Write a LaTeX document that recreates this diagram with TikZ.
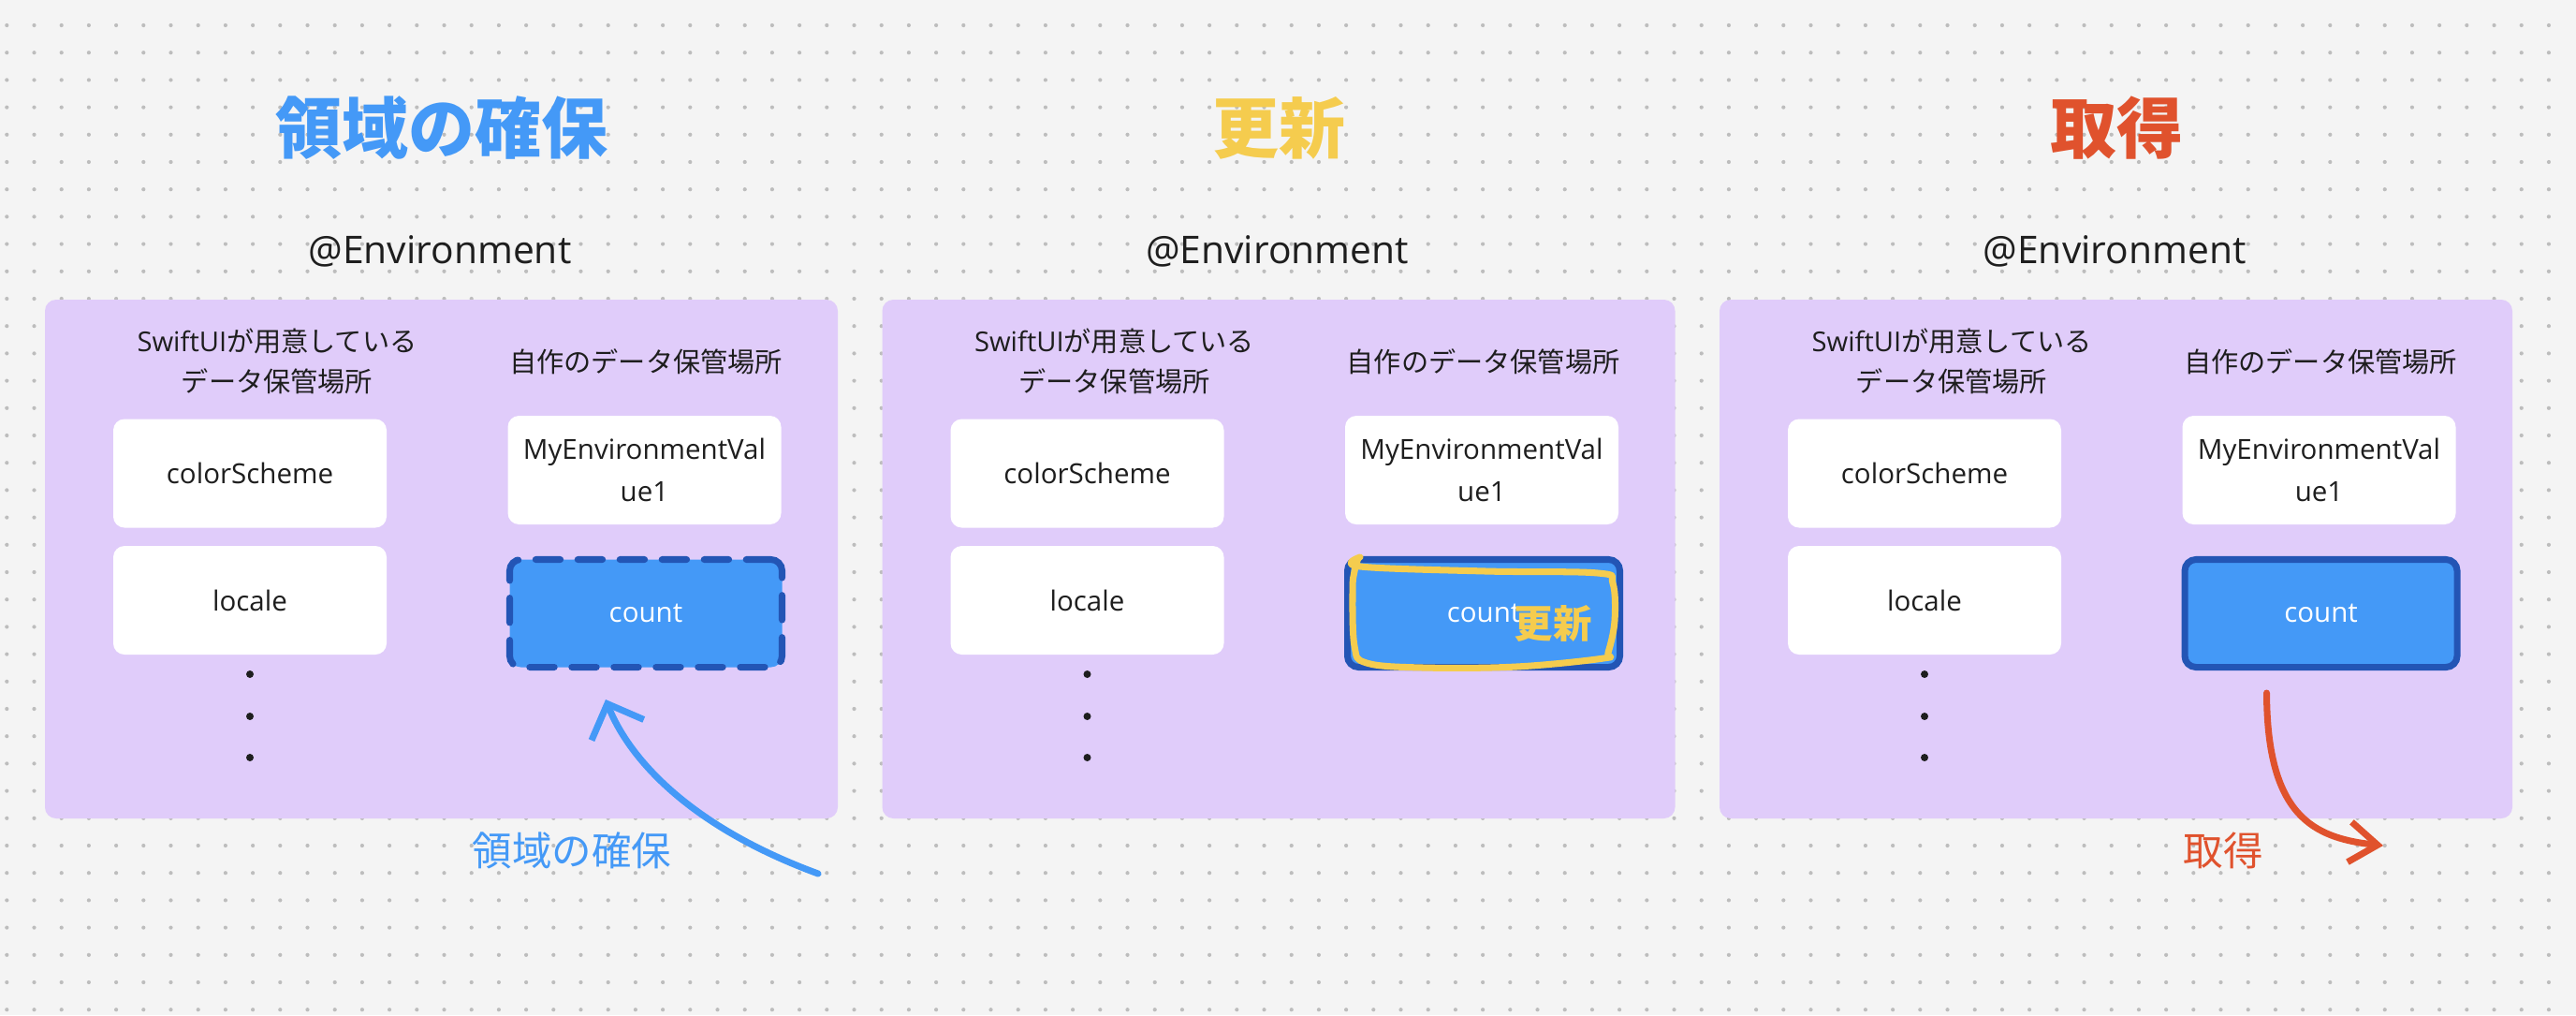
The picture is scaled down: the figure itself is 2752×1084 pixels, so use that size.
\documentclass[tikz,border=0pt]{standalone}
\usepackage{fontspec}
\setmainfont{Open Sans}
\newfontfamily\jp{Noto Sans CJK JP}
\usetikzlibrary{arrows.meta,calc}

\definecolor{canvas}{HTML}{F4F4F4}
\definecolor{griddot}{HTML}{BDBDBD}
\definecolor{panelbg}{HTML}{E0CCFA}
\definecolor{ink}{HTML}{1E1E1E}
\definecolor{skyblue}{HTML}{4499F7}
\definecolor{countedge}{HTML}{2355B5}
\definecolor{amber}{HTML}{F5CC4E}
\definecolor{vermilion}{HTML}{E0522D}

\begin{document}
\begin{tikzpicture}[
	x=0.1mm, y=-0.1mm,
	panel/.style={rectangle, rounded corners=3.4pt, fill=panelbg, minimum width=84.7mm, minimum height=55.4mm},
	slot/.style={rectangle, rounded corners=3.4pt, fill=white, minimum width=29.2mm, minimum height=11.6mm, align=center, text=ink, font=\fontsize{8.4}{12.8}\selectfont},
	countslot/.style={slot, fill=skyblue, draw=countedge, line width=2pt, minimum width=29.1mm, minimum height=11.5mm, text=white},
	heading/.style={font=\jp\bfseries\fontsize{20.2}{24}\selectfont},
	envlabel/.style={anchor=base, text=ink, font=\fontsize{11.6}{14}\selectfont},
	note/.style={align=center, text=ink, font=\fontsize{8.3}{12.2}\selectfont},
	sketch/.style={line width=2pt, line cap=round, line join=round}
	]
	\useasboundingbox (0,0) rectangle (2752,1084);
	
	% Canvas with dot grid
	\fill[canvas] (0,0) rectangle (2752,1084);
	\foreach \i in {0,...,93} {
		\foreach \j in {0,...,36} {
			\fill[griddot] ({7.3+29.2*\i},{27+29.2*\j}) circle[radius=0.21mm];
		}
	}
	
	% Three panels
	\foreach \p/\dx/\title/\tint in {1/0/領域の確保/skyblue, 2/894.5/更新/amber, 3/1789/取得/vermilion} {
		\node[heading, text=\tint] (title\p) at ({472+\dx},137) {\title};
		\node[envlabel] (env\p) at ({470+\dx},281) {@Environment};
		\node[panel] (panel\p) at ({471.5+\dx},597) {};
		\node[note] (kit\p) at ({296+\dx},386) {SwiftUI{\jp が用意している}\\{\jp データ保管場所}};
		\node[note] (own\p) at ({690+\dx},386) {\jp 自作のデータ保管場所};
		\node[slot] (scheme\p) at ({267+\dx},505.5) {colorScheme};
		\node[slot] (locale\p) at ({267+\dx},641) {locale};
		\node[slot] (value\p) at ({688.5+\dx},502) {MyEnvironmentVal\\ue1};
		\foreach \y in {720,765,809} {
			\fill[ink] ({267+\dx},\y) circle[radius=0.4mm];
		}
	}
	
	% count slots
	\node[countslot, dash pattern=on 7.5pt off 5.3pt, line cap=round] (count1) at (690,655) {count};
	\node[countslot] (count2) at (1585,655) {count};
	\node[countslot] (count3) at (2479.5,655) {count};
	
	% Reserve
	\coordinate (reserve) at (874,933);
	\draw[sketch, skyblue, -{Straight Barb[length=3mm, width=6mm]}] (reserve) .. controls (730,880) and (670,805) .. ([shift={(-43,92)}]count1.center);
	\node[text=skyblue, font=\jp\fontsize{12.1}{14}\selectfont] (reservetext) at (611,908) {領域の確保};
	
	% Update
	\draw[sketch, amber] plot[smooth, tension=0.6] coordinates {(1453,595) (1453,605) (1587,610) (1707,612) (1723,623) (1725,663) (1718,697) (1713,703) (1620,712) (1520,713) (1460,708) (1447,690) (1445,630) (1447,610) (1451,596)};
	\node[text=amber, font=\jp\bfseries\fontsize{11.8}{14}\selectfont] (updatetext) at (1659,666) {更新};
	
	% Fetch
	\coordinate (fetch) at (2546,903);
	\draw[sketch, vermilion, -{Straight Barb[length=3mm, width=4.3mm]}] ([shift={(-58,85)}]count3.center) .. controls (2422,870) and (2470,895) .. (fetch);
	\node[text=vermilion, font=\jp\fontsize{12.1}{14}\selectfont] (fetchtext) at (2375,908) {取得};
\end{tikzpicture}
\end{document}
